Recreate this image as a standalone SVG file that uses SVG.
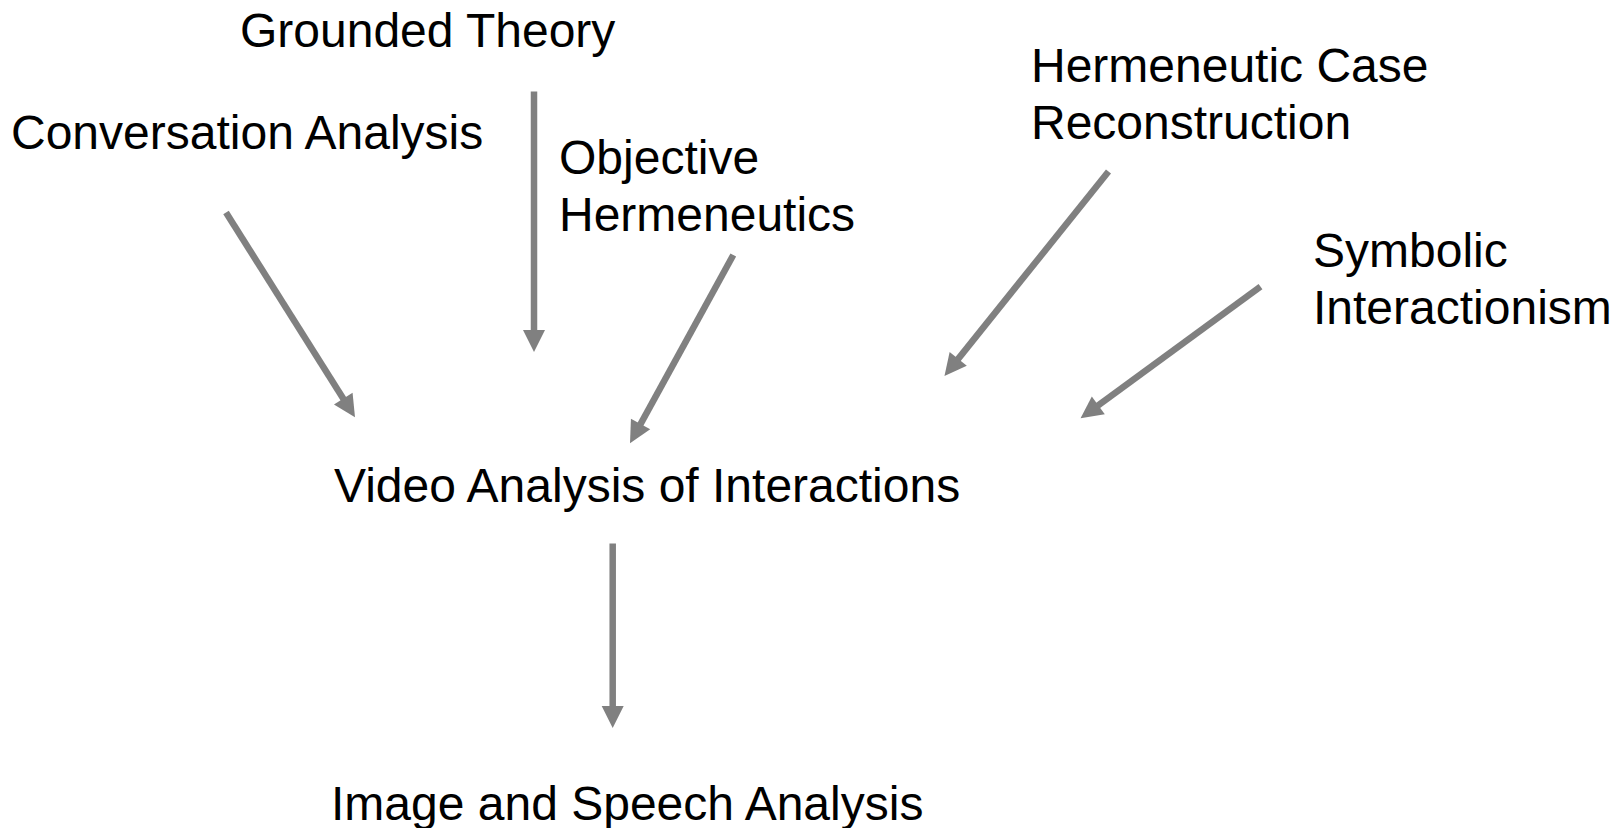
<svg xmlns="http://www.w3.org/2000/svg" width="1623" height="828" viewBox="0 0 1623 828">
  <style>
    .lbl { font-family: "Liberation Sans", Arial, sans-serif; font-size: 48px; fill: #000000; }
    .conn { stroke: #808080; stroke-width: 6.5; fill: none; marker-end: url(#ah); }
  </style>
  <defs>
    <marker id="ah" markerUnits="userSpaceOnUse" markerWidth="24" markerHeight="24" refX="1" refY="0" viewBox="0 -12 24 24" orient="auto" overflow="visible">
      <path d="M0,-11 L22,0 L0,11 Z" fill="#808080"/>
    </marker>
  </defs>
  <rect width="1623" height="828" fill="#ffffff"/>

  <g id="connectors">
    <line class="conn" x1="534" y1="91.5" x2="534" y2="331"/>
    <line class="conn" x1="226" y1="212.5" x2="343.8" y2="399.5"/>
    <line class="conn" x1="733.3" y1="255" x2="640.1" y2="424.9"/>
    <line class="conn" x1="1108.5" y1="171.5" x2="957.6" y2="359.6"/>
    <line class="conn" x1="1260.5" y1="286.7" x2="1097.5" y2="405.9"/>
    <line class="conn" x1="612.7" y1="543.5" x2="612.7" y2="707"/>
  </g>

  <g id="grounded-theory">
    <text class="lbl" x="240" y="47">Grounded Theory</text>
  </g>
  <g id="conversation-analysis">
    <text class="lbl" x="11" y="149">Conversation Analysis</text>
  </g>
  <g id="objective-hermeneutics">
    <text class="lbl" x="559" y="174">Objective</text>
    <text class="lbl" x="559" y="231">Hermeneutics</text>
  </g>
  <g id="hermeneutic-case-reconstruction">
    <text class="lbl" x="1031" y="82">Hermeneutic Case</text>
    <text class="lbl" x="1031" y="138.5">Reconstruction</text>
  </g>
  <g id="symbolic-interactionism">
    <text class="lbl" x="1313" y="267">Symbolic</text>
    <text class="lbl" x="1313" y="323.5">Interactionism</text>
  </g>
  <g id="video-analysis">
    <text class="lbl" x="334" y="502">Video Analysis of Interactions</text>
  </g>
  <g id="image-speech-analysis">
    <text class="lbl" x="331" y="820">Image and Speech Analysis</text>
  </g>
</svg>
